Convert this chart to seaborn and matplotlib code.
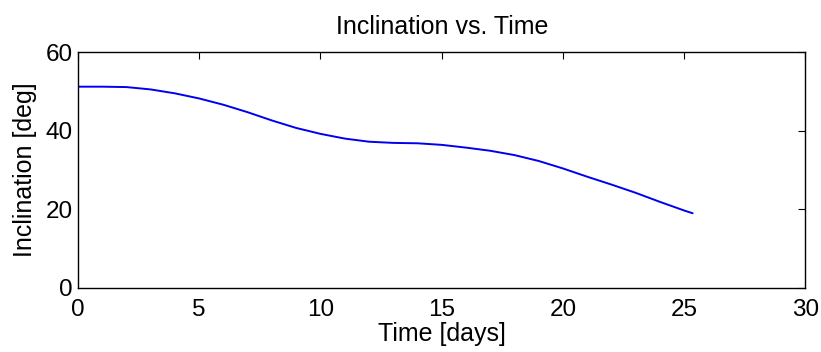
import numpy as np
import pandas as pd
import matplotlib
matplotlib.use('Agg')
import matplotlib.pyplot as plt
import seaborn as sns

# Inclination
time_days = [0, 1, 2, 3, 4, 5, 6, 7, 8, 9, 10, 11, 12, 13, 14, 15, 16, 17, 18,
             19, 20, 21, 22, 23, 24, 25, 25.35]
inclination_deg = [51.2, 51.2, 51.1, 50.5, 49.5, 48.2, 46.6, 44.7, 42.6, 40.7,
                   39.2, 38.0, 37.2, 36.9, 36.8, 36.4, 35.7, 34.9, 33.8, 32.3,
                   30.4, 28.3, 26.3, 24.2, 21.9, 19.7, 19.0]
x_ticks = [0, 5, 10, 15, 20, 25, 30]
y_ticks = [0, 20, 40, 60]

df = pd.DataFrame({'Time [days]': time_days, 'Inclination [deg]': inclination_deg})

sns.set_style('white')
plt.rcParams['font.family'] = ['Liberation Sans', 'DejaVu Sans']
plt.rcParams['text.color'] = 'black'
plt.rcParams['axes.labelcolor'] = 'black'

fig = plt.figure(figsize=(8.21, 3.52), dpi=100)
ax = fig.add_axes([0.095, 0.182, 0.886, 0.670])

sns.lineplot(data=df, x='Time [days]', y='Inclination [deg]', ax=ax,
             color='#0000f0', linewidth=1.4)

ax.set_xlim(0, 30)
ax.set_ylim(0, 60)
ax.set_xticks(x_ticks)
ax.set_yticks(y_ticks)
ax.tick_params(direction='in', top=True, right=True, length=5, width=0.8,
               labelsize=17.5, colors='black')
ax.tick_params(axis='x', pad=8)
ax.tick_params(axis='y', pad=4)
for s in ax.spines.values():
    s.set_color('black')
    s.set_linewidth(1.0)
ax.set_xlabel('Time [days]', fontsize=18, labelpad=1)
ax.set_ylabel('Inclination [deg]', fontsize=18, labelpad=6)
ax.set_title('Inclination vs. Time', fontsize=18, pad=13)

fig.savefig('out.png', dpi=100)
